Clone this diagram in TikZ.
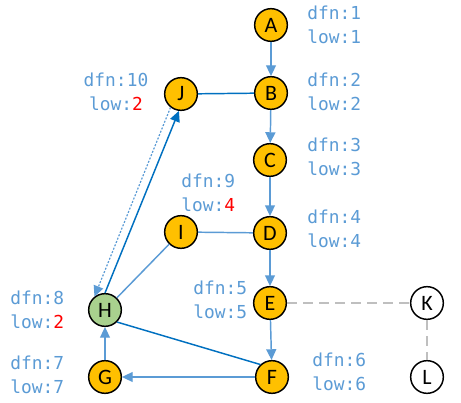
\documentclass[tikz,border=0pt]{standalone}
\usepackage{fontspec}
\setmainfont{Carlito}
\newfontfamily\monof{DejaVu Sans Mono}
\usetikzlibrary{arrows.meta}
\definecolor{cl}{HTML}{5B9BD5}
\definecolor{cd}{HTML}{0070C0}
\definecolor{cg}{HTML}{BFBFBF}
\definecolor{gold}{HTML}{FFC000}
\definecolor{grn}{HTML}{A9D18E}
\definecolor{rd}{HTML}{FF0000}
\begin{document}
\begin{tikzpicture}[x=0.75pt,y=-0.75pt,
  vtx/.style={circle,draw=black,line width=1.1pt,fill=gold,minimum size=24.5pt,inner sep=0pt,font=\fontsize{16.5}{17}\selectfont},
  wvtx/.style={vtx,fill=white},
  gvtx/.style={vtx,fill=grn},
  lbl/.style={inner sep=0pt,text=cl,font=\monof\fontsize{13.4}{18}\selectfont},
  lbll/.style={lbl,anchor=west,align=left},
  lblc/.style={lbl,align=center},
  tip/.style={-{Triangle[length=8pt,width=7.5pt]}},
  arl/.style={draw=cl,line width=1.1pt,tip},
  ard/.style={draw=cd,line width=1.1pt,tip},
  lnl/.style={draw=cl,line width=1.1pt},
  lnd/.style={draw=cd,line width=1.1pt},
  dotar/.style={draw=cl,line width=0.9pt,dash pattern=on 1.5pt off 1.2pt,-{Triangle[length=8pt,width=7.5pt]}},
  gdash/.style={draw=cg,line width=1.1pt,dash pattern=on 7.5pt off 4.5pt}
]
\useasboundingbox (0,0) rectangle (461,403);
% vertices
\node[vtx] (A) at (271,25) {A};
\node[vtx] (B) at (271,93) {B};
\node[vtx] (C) at (270,160) {C};
\node[vtx] (J) at (181,94) {J};
\node[vtx] (D) at (270,233) {D};
\node[vtx] (I) at (181,232) {I};
\node[vtx] (E) at (270,303) {E};
\node[gvtx] (H) at (105,310) {H};
\node[vtx] (G) at (105,377) {G};
\node[vtx] (F) at (272,377) {F};
\node[wvtx] (K) at (427,303) {K};
\node[wvtx] (L) at (427,377) {L};
% labels
\node[lbll] (lA) at (307,25) {dfn:1\\low:1};
\node[lbll] (lB) at (307,92) {dfn:2\\low:2};
\node[lbll] (lC) at (307,157) {dfn:3\\low:3};
\node[lbll] (lD) at (307,229) {dfn:4\\low:4};
\node[lblc] (lJ) at (116,92) {dfn:10\\low:{\color{rd}2}};
\node[lbll] (lI) at (181,193) {dfn:9\\low:{\color{rd}4}};
\node[lbll] (lE) at (193,300) {dfn:5\\low:5};
\node[lbll] (lF) at (312,372) {dfn:6\\low:6};
\node[lbll] (lH) at (10,310) {dfn:8\\low:{\color{rd}2}};
\node[lbll] (lG) at (10,375) {dfn:7\\low:7};
% edges
\draw[arl] (A) -- (B);
\draw[arl] (B) -- (C);
\draw[arl] (C) -- (D);
\draw[arl] (D) -- (E);
\draw[arl] (E) -- (F);
\draw[arl] (F) -- (G);
\draw[arl] (G) -- (H);
\draw[ard] (H.90) -- (J.-97);
\draw[dotar] (J.232) -- (H.128);
\draw[lnd] (J) -- (B);
\draw[lnl] (I) -- (D);
\draw[lnl] (I) -- (H);
\draw[lnd] (H.-45) -- (F.133);
\draw[gdash] (E) -- (K);
\draw[gdash] (K) -- (L);
\end{tikzpicture}
\end{document}
